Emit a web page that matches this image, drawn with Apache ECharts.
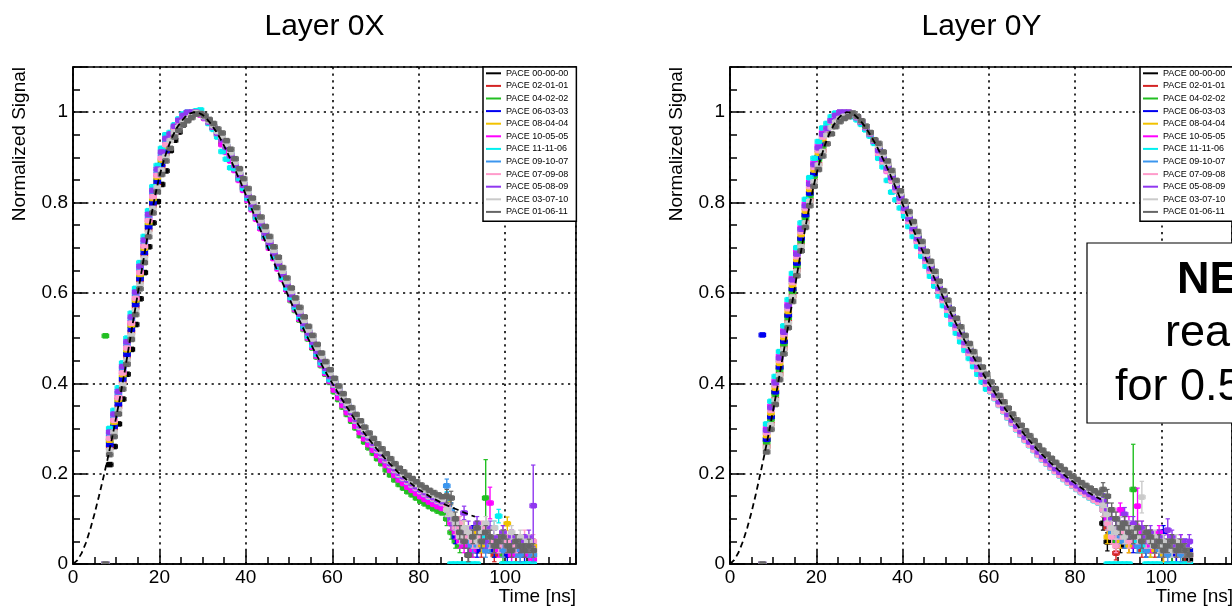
<!DOCTYPE html>
<html>
<head>
<meta charset="utf-8">
<script src="https://cdn.jsdelivr.net/npm/echarts@6/dist/echarts.min.js"></script>
<style>
  html, body { margin: 0; background: #fff; }
  #chart { width: 1232px; height: 609px; }
</style>
</head>
<body>
<div id="chart"></div>
<script>
// time bins [ns], shared by all PACE curves
const times = [7.5,8.5,9.5,10.5,11.5,12.5,13.5,14.5,15.5,16.5,17.5,18.5,19.5,20.5,21.5,22.5,23.5,24.5,25.5,26.5,
  27.5,28.5,29.5,30.5,31.5,32.5,33.5,34.5,35.5,36.5,37.5,38.5,39.5,40.5,41.5,42.5,43.5,44.5,45.5,46.5,
  47.5,48.5,49.5,50.5,51.5,52.5,53.5,54.5,55.5,56.5,57.5,58.5,59.5,60.5,61.5,62.5,63.5,64.5,65.5,66.5,
  67.5,68.5,69.5,70.5,71.5,72.5,73.5,74.5,75.5,76.5,77.5,78.5,79.5,80.5,81.5,82.5,83.5,84.5,85.5,86.5,
  87.5,88.5,89.5,90.5,91.5,92.5,93.5,94.5,95.5,96.5,97.5,98.5,99.5,100.5,101.5,102.5,103.5,104.5,105.5,106.5];

const seriesNames = ['PACE 00-00-00','PACE 02-01-01','PACE 04-02-02','PACE 06-03-03','PACE 08-04-04','PACE 10-05-05',
  'PACE 11-11-06','PACE 09-10-07','PACE 07-09-08','PACE 05-08-09','PACE 03-07-10','PACE 01-06-11'];
const seriesColors = ['#000000','#d42424','#22bf22','#0000f0','#f2c200','#ff00ff',
  '#00f0f0','#3c96ee','#ff9ccb','#9038f0','#cacaca','#666666'];

// ---- Layer 0X ----
const lx0 = [0,
  .22,.26,.31,.365,.42,.475,.53,.587,.645,.702,.755,.802,.84,.87,
  .915,.938,.956,.972,.984,.993,
  .997,.998,.99,.98,.968,.955,
  .941,.924,.905,.884,.862,.84,.818,.797,.776,.755,.734,.712,.689,.666,.643,.62,.598,.576,.555,.534,.513,.493,.473,.454,.435,.417,
  .401,.384,.367,.351,.336,.321,.307,.293,.28,.268,.256,.245,.234,.223,.212,.202,.194,.186,.179,.172,.165,.159,.153,.148,.143,.139,
  .14,.12,.09,.07,.05,.02,.06,.04,.05,.06,.04,.03,.05,.04,.03,.04,.02,.03,.04,.03,.02];
const lx1 = [0,
  .258,.298,.348,.403,.458,.513,.568,.625,.683,.74,.793,.84,.878,.908,
  .938,.955,.968,.979,.987,.993,
  .999,.995,.987,.977,.966,.951,
  .934,.917,.898,.877,.855,.833,.811,.79,.769,.748,.727,.705,.682,.659,.636,.613,.591,.569,.548,.527,.506,.486,.466,.447,.428,.41,
  .391,.374,.357,.341,.326,.311,.297,.283,.27,.258,.246,.235,.224,.213,.202,.192,.184,.176,.169,.162,.155,.149,.143,.138,.133,.129,
  .13,.11,.08,.06,.07,.05,.04,.06,.03,.05,.04,.02,.04,.03,.05,.03,.02,.04,.03,.02,.03];
const lx2 = [.505,
  .272,.31,.362,.413,.47,.527,.58,.635,.697,.75,.805,.85,.891,.92,
  .943,.96,.972,.984,.991,.997,
  1,.995,.987,.977,.965,.95,
  .93,.913,.894,.873,.851,.829,.807,.786,.765,.744,.723,.701,.678,.655,.632,.609,.583,.561,.54,.519,.498,.478,.458,.439,.42,.402,
  .381,.364,.347,.331,.316,.301,.284,.27,.257,.245,.233,.222,.208,.197,.186,.176,.168,.16,.153,.146,.139,.133,.127,.122,.117,.113,
  .10,.07,.05,.04,.06,.05,.03,.04,.05,.146,.04,.03,.05,.02,.04,.03,.05,.02,.03,.04,.02];
const lx3 = [0,
  .264,.304,.354,.409,.464,.519,.574,.631,.689,.746,.799,.846,.884,.914,
  .94,.957,.97,.981,.989,.995,
  1,.996,.988,.978,.966,.952,
  .935,.918,.899,.878,.856,.834,.812,.791,.77,.749,.728,.706,.683,.66,.637,.614,.592,.57,.549,.528,.507,.487,.467,.448,.429,.411,
  .392,.375,.358,.342,.327,.312,.298,.284,.271,.259,.247,.236,.225,.214,.203,.193,.185,.177,.17,.163,.156,.15,.144,.139,.134,.13,
  .13,.10,.06,.08,.05,.04,.07,.03,.05,.04,.06,.03,.04,.05,.02,.04,.03,.05,.02,.03,.04];
const lx4 = [0,
  .274,.314,.364,.419,.474,.529,.584,.641,.699,.756,.809,.856,.894,.924,
  .943,.96,.973,.984,.992,.998,
  1,.996,.988,.978,.967,.953,
  .937,.922,.901,.882,.858,.838,.814,.795,.772,.753,.73,.71,.685,.664,.639,.618,.594,.574,.551,.532,.509,.491,.469,.452,.431,.415,
  .395,.378,.361,.345,.33,.315,.301,.287,.274,.262,.25,.239,.228,.217,.206,.196,.188,.18,.173,.166,.159,.153,.147,.142,.137,.133,
  .14,.11,.09,.07,.08,.05,.06,.07,.04,.05,.06,.04,.05,.03,.089,.04,.03,.05,.04,.03,.04];
const lx5 = [0,
  .28,.32,.37,.425,.48,.535,.59,.647,.705,.762,.815,.862,.9,.93,
  .947,.964,.977,.988,.995,1,
  1,.994,.986,.976,.965,.95,
  .928,.911,.892,.871,.849,.827,.805,.784,.763,.742,.721,.699,.676,.653,.63,.607,.585,.563,.542,.521,.5,.48,.46,.441,.422,.404,
  .385,.368,.351,.335,.32,.305,.291,.277,.264,.252,.24,.229,.218,.207,.196,.186,.178,.17,.163,.156,.149,.143,.137,.132,.127,.123,
  .12,.09,.07,.05,.04,.06,.03,.05,.07,.06,.135,.04,.03,.05,.04,.02,.03,.04,.03,.02,.01];
const lx6 = [0,
  .30,.34,.39,.445,.50,.555,.61,.667,.725,.782,.835,.882,.92,.95,
  .955,.972,.985,.996,1,1,
  1.003,1.005,.99,.975,.962,.945,
  .913,.896,.877,.875,.853,.831,.809,.788,.767,.746,.725,.703,.68,.657,.634,.611,.589,.567,.546,.525,.504,.484,.464,.445,.426,.408,
  .396,.379,.362,.346,.331,.316,.302,.288,.275,.263,.251,.24,.229,.218,.207,.197,.189,.181,.174,.167,.16,.154,.148,.143,.138,.134,
  .145,0,0,0,0,0,0,0,.07,.06,.05,.08,.106,0,0,0,0,0,0,0,0];
const lx7 = [0,
  .288,.328,.378,.433,.488,.543,.598,.655,.713,.77,.823,.87,.908,.938,
  .95,.967,.98,.991,.999,1,
  1,.996,.988,.979,.968,.955,
  .943,.926,.907,.886,.864,.842,.82,.799,.778,.757,.736,.714,.691,.668,.645,.622,.60,.578,.557,.536,.515,.495,.475,.456,.437,.419,
  .402,.385,.368,.352,.337,.322,.308,.294,.281,.269,.257,.246,.235,.224,.213,.203,.195,.187,.18,.173,.166,.16,.154,.149,.144,.14,
  .173,.12,.08,.06,.07,.05,.04,.06,.05,.03,.04,.06,.04,.03,.05,.04,.03,.02,.04,.03,.02];
const lx8 = [0,
  .278,.318,.368,.423,.478,.533,.588,.645,.703,.76,.813,.86,.898,.928,
  .946,.963,.976,.987,.995,1,
  1,.996,.988,.978,.967,.953,
  .94,.923,.904,.883,.861,.839,.817,.796,.775,.754,.733,.711,.688,.665,.642,.619,.597,.575,.554,.533,.512,.492,.472,.453,.434,.416,
  .397,.38,.363,.347,.332,.317,.303,.289,.276,.264,.252,.241,.23,.219,.208,.198,.19,.182,.175,.168,.161,.155,.149,.144,.139,.135,
  .13,.10,.08,.09,.06,.07,.05,.06,.08,.07,.05,.06,.04,.07,.05,.06,.04,.05,.06,.04,.05];
const lx9 = [0,
  .292,.332,.382,.437,.492,.547,.602,.659,.717,.774,.827,.874,.912,.942,
  .952,.969,.982,.993,1,1,
  1,.996,.988,.978,.967,.953,
  .939,.922,.903,.882,.86,.838,.816,.795,.774,.753,.732,.71,.687,.664,.641,.618,.596,.574,.553,.532,.511,.491,.471,.452,.433,.415,
  .40,.383,.366,.35,.335,.32,.306,.292,.279,.267,.255,.244,.233,.222,.211,.201,.193,.185,.178,.171,.164,.158,.152,.147,.142,.138,
  .12,.10,.09,.07,.113,.08,.06,.09,.07,.05,.08,.06,.05,.07,.04,.06,.05,.04,.05,.06,.129];
const lx10 = [0,
  .252,.292,.342,.397,.452,.507,.562,.619,.677,.734,.787,.834,.872,.902,
  .937,.954,.967,.978,.986,.992,
  .999,.997,.99,.981,.97,.957,
  .946,.929,.91,.889,.867,.845,.823,.802,.781,.76,.739,.717,.694,.671,.648,.625,.603,.581,.56,.539,.518,.498,.478,.459,.44,.422,
  .405,.388,.371,.355,.34,.325,.311,.297,.284,.272,.26,.249,.238,.227,.216,.206,.198,.19,.183,.176,.169,.163,.157,.152,.147,.143,
  .12,.11,.09,.06,.08,.07,.06,.05,.07,.09,.06,.08,.05,.06,.04,.07,.05,.06,.04,.05,.03];
const lx11 = [0,
  .242,.282,.332,.387,.442,.497,.552,.609,.667,.724,.777,.824,.862,.892,
  .92,.945,.96,.972,.981,.988,
  .996,.997,.992,.984,.975,.963,
  .954,.937,.918,.897,.875,.853,.831,.81,.789,.768,.747,.725,.702,.679,.656,.633,.611,.589,.568,.547,.526,.506,.486,.467,.448,.43,
  .411,.394,.377,.361,.346,.331,.317,.303,.29,.278,.266,.255,.244,.233,.222,.212,.204,.196,.189,.182,.175,.169,.163,.158,.153,.149,
  .15,.146,.10,.07,.05,.02,.06,.08,.05,.07,.06,.04,.05,.06,.04,.03,.05,.04,.03,.04,.03];

// ---- Layer 0Y ----
const ly0 = [0,
  .275,.325,.38,.435,.492,.55,.608,.665,.72,.772,.82,.863,.90,.93,
  .956,.973,.985,.993,.998,.997,
  .997,.99,.98,.968,.954,.938,
  .922,.903,.883,.862,.84,.817,.794,.771,.749,.727,.705,.683,.661,.639,.617,.596,.575,.555,.535,.516,.497,.479,.461,.444,.427,.411,
  .396,.381,.366,.352,.338,.325,.312,.30,.288,.277,.266,.255,.245,.236,.227,.218,.21,.202,.194,.187,.18,.173,.167,.161,.155,.15,
  .09,.049,.06,.05,.04,.07,.06,.05,.04,.06,.03,.05,.04,.03,.05,.04,.02,.04,.03,.02,.01];
const ly1 = [0,
  .26,.31,.365,.42,.477,.535,.593,.65,.705,.757,.805,.848,.885,.915,
  .95,.967,.979,.987,.992,.991,
  .995,.988,.978,.966,.952,.936,
  .919,.90,.88,.859,.837,.814,.791,.768,.746,.724,.702,.68,.658,.636,.614,.593,.572,.552,.532,.513,.494,.476,.458,.441,.424,.408,
  .393,.378,.363,.349,.335,.322,.309,.297,.285,.274,.263,.252,.242,.233,.224,.215,.207,.199,.191,.184,.177,.17,.164,.158,.152,.147,
  .12,.08,.06,.024,.05,.07,.04,.06,.05,.03,.05,.04,.03,.05,.02,.04,.03,.02,.03,.02,.02];
const ly2 = [0,
  .27,.32,.375,.43,.487,.545,.603,.66,.715,.767,.815,.858,.895,.925,
  .954,.971,.983,.991,.996,.995,
  .995,.988,.978,.966,.952,.936,
  .917,.90,.878,.859,.835,.814,.789,.768,.744,.724,.70,.68,.656,.636,.612,.593,.57,.552,.53,.513,.492,.476,.456,.441,.422,.408,
  .39,.377,.36,.348,.332,.321,.306,.296,.282,.273,.26,.251,.239,.232,.221,.214,.204,.198,.188,.183,.174,.169,.161,.157,.149,.146,
  .13,.09,.07,.05,.06,.08,.05,.165,.06,.04,.05,.03,.04,.06,.03,.04,.02,.03,.04,.03,.02];
const ly3 = [.507,
  .276,.326,.381,.436,.493,.551,.609,.666,.721,.773,.821,.864,.901,.931,
  .956,.973,.985,.993,.998,.997,
  .995,.988,.978,.966,.952,.936,
  .917,.898,.878,.857,.835,.812,.789,.766,.744,.722,.70,.678,.656,.634,.612,.591,.57,.55,.53,.511,.492,.474,.456,.439,.422,.406,
  .391,.376,.361,.347,.333,.32,.307,.295,.283,.272,.261,.25,.24,.231,.222,.213,.205,.197,.189,.182,.175,.168,.162,.156,.15,.145,
  .14,.10,.08,.06,.09,.05,.07,.04,.06,.05,.03,.06,.04,.05,.07,.03,.04,.02,.03,.04,.03];
const ly4 = [0,
  .284,.334,.389,.444,.501,.559,.617,.674,.729,.781,.829,.872,.909,.939,
  .96,.977,.989,.997,1,1,
  .995,.988,.978,.966,.952,.936,
  .912,.893,.873,.852,.83,.807,.784,.761,.739,.717,.695,.673,.651,.629,.607,.586,.565,.545,.525,.506,.487,.469,.451,.434,.417,.401,
  .385,.37,.355,.341,.327,.314,.301,.289,.277,.266,.255,.244,.234,.225,.216,.207,.199,.191,.183,.176,.169,.162,.156,.15,.144,.139,
  .12,.06,.08,.07,.05,.06,.04,.07,.05,.04,.06,.03,.05,.04,.02,.03,.04,.03,.02,.03,.02];
const ly5 = [0,
  .30,.35,.405,.46,.517,.575,.633,.69,.745,.797,.845,.888,.925,.955,
  .966,.983,.995,1,1,.999,
  .993,.986,.976,.964,.95,.934,
  .908,.889,.869,.848,.826,.803,.78,.757,.735,.713,.691,.669,.647,.625,.603,.582,.561,.541,.521,.502,.483,.465,.447,.43,.413,.397,
  .383,.368,.353,.339,.325,.312,.299,.287,.275,.264,.253,.242,.232,.223,.214,.205,.197,.189,.181,.174,.167,.16,.154,.148,.142,.137,
  .13,.10,.08,.07,.12,.06,.09,.05,.128,.07,.06,.04,.05,.07,.04,.05,.03,.04,.05,.03,.02];
const ly6 = [0,
  .31,.36,.415,.47,.527,.585,.643,.70,.755,.807,.855,.898,.935,.965,
  .975,.99,.998,1,1,.996,
  .99,.983,.973,.961,.947,.931,
  .898,.879,.849,.823,.806,.788,.77,.747,.725,.703,.681,.659,.637,.615,.593,.572,.551,.531,.511,.492,.473,.455,.437,.42,.403,.387,
  .381,.366,.351,.337,.323,.31,.297,.285,.273,.262,.251,.24,.23,.221,.212,.203,.195,.187,.179,.172,.165,.158,.152,.146,.14,.135,
  .12,0,0,0,0,0,0,.06,.05,.04,0,0,0,0,.03,0,0,0,0,0,0];
const ly7 = [0,
  .292,.342,.397,.452,.509,.567,.625,.682,.737,.789,.837,.88,.917,.947,
  .963,.98,.992,1,1,1,
  .995,.988,.978,.966,.952,.936,
  .911,.892,.872,.851,.829,.806,.783,.76,.738,.716,.694,.672,.65,.628,.606,.585,.564,.544,.524,.505,.486,.468,.45,.433,.416,.40,
  .386,.371,.356,.342,.328,.315,.302,.29,.278,.267,.256,.245,.235,.226,.217,.208,.20,.192,.184,.177,.17,.163,.157,.151,.145,.14,
  .13,.09,.07,.08,.06,.05,.08,.06,.04,.05,.03,.05,.04,.03,.04,.02,.03,.04,.02,.03,.02];
const ly8 = [0,
  .29,.34,.395,.45,.507,.565,.623,.68,.735,.787,.835,.878,.915,.945,
  .963,.98,.992,1,1,1,
  .995,.988,.978,.966,.952,.936,
  .909,.89,.87,.849,.827,.804,.781,.758,.736,.714,.692,.67,.648,.626,.604,.583,.562,.542,.522,.503,.484,.466,.448,.431,.414,.398,
  .382,.367,.352,.338,.324,.311,.298,.286,.274,.263,.252,.241,.231,.222,.213,.204,.196,.188,.18,.173,.166,.159,.153,.147,.141,.136,
  .12,.09,.06,.04,.07,.09,.05,.07,.06,.08,.05,.06,.04,.05,.03,.04,.05,.03,.04,.03,.02];
const ly9 = [0,
  .296,.346,.401,.456,.513,.571,.629,.686,.741,.793,.841,.884,.921,.951,
  .964,.981,.993,1,1,1,
  .995,.988,.978,.966,.952,.936,
  .915,.896,.876,.855,.833,.81,.787,.764,.742,.72,.698,.676,.654,.632,.61,.589,.568,.548,.528,.509,.49,.472,.454,.437,.42,.404,
  .389,.374,.359,.345,.331,.318,.305,.293,.281,.27,.259,.248,.238,.229,.22,.211,.203,.195,.187,.18,.173,.166,.16,.154,.148,.143,
  .14,.12,.10,.08,.09,.11,.07,.09,.06,.08,.06,.07,.05,.06,.05,.075,.06,.04,.05,.04,.05];
const ly10 = [0,
  .258,.308,.363,.418,.475,.533,.591,.648,.703,.755,.803,.846,.883,.913,
  .949,.966,.978,.986,.991,.992,
  .997,.99,.98,.968,.954,.938,
  .925,.906,.886,.865,.843,.82,.797,.774,.752,.73,.708,.686,.664,.642,.62,.599,.578,.558,.538,.519,.50,.482,.464,.447,.43,.414,
  .399,.384,.369,.355,.341,.328,.315,.303,.291,.28,.269,.258,.248,.239,.23,.221,.213,.205,.197,.19,.183,.176,.17,.164,.158,.153,
  .13,.11,.08,.07,.09,.06,.08,.07,.06,.148,.07,.05,.06,.04,.05,.04,.03,.05,.04,.03,.02];
const ly11 = [0,
  .248,.298,.353,.408,.465,.523,.581,.638,.693,.745,.793,.836,.873,.903,
  .93,.952,.968,.979,.986,.99,
  .998,.991,.981,.969,.955,.939,
  .931,.912,.892,.871,.849,.826,.803,.78,.758,.736,.714,.692,.67,.648,.626,.605,.584,.564,.544,.525,.506,.488,.47,.453,.436,.42,
  .403,.388,.373,.359,.345,.332,.319,.307,.295,.284,.273,.262,.252,.243,.234,.225,.217,.209,.201,.194,.187,.18,.174,.168,.162,.157,
  .165,.15,.12,.10,.08,.09,.07,.06,.08,.05,.07,.06,.04,.05,.03,.04,.05,.03,.04,.03,.02];

// large vertical error bars in the tail: [series index, time, error]
const bigErrX = [[2, 95.5, 0.085], [5, 96.5, 0.035], [9, 106.5, 0.09], [7, 86.5, 0.015]];
const bigErrY = [[0, 87.5, 0.02], [2, 93.5, 0.1], [5, 94.5, 0.04], [9, 101.5, 0.025], [10, 95.5, 0.035]];
const tailStart = 86;
const tailErr = 0.015;
const binHalf = 0.75;

// fitted pulse shape (dashed)
const fitTimes = [0,1,2,3,4,5,6,7,8,9,10,11,12,13,14,15,16,17,18,19,20,21,22,23,24,25,26,27,28,29,30,
  31,32,33,34,35,36,37,38,39,40,41,42,43,44,45,46,47,48,49,50,51,52,53,54,55,56,57,58,59,60,
  61,62,63,64,65,66,67,68,69,70,71,72,73,74,75,76,77,78,79,80,81,82,83,84,85,86,87,88,89,90,91,92,93];
const fitX = [0,.008,.024,.047,.077,.112,.15,.19,.232,.277,.325,.375,.428,.485,.542,.599,.655,.712,.765,.815,
  .858,.893,.922,.946,.965,.979,.99,.997,1,.999,.994,.985,.973,.959,.943,.925,.905,.884,.862,.84,
  .817,.794,.771,.748,.725,.702,.679,.656,.633,.611,.589,.568,.547,.527,.507,.488,.469,.451,.433,.416,
  .40,.384,.368,.353,.338,.323,.309,.295,.282,.27,.258,.247,.236,.225,.215,.205,.196,.188,.18,.172,
  .165,.159,.153,.147,.142,.137,.132,.128,.124,.12,.116,.112,.108,.105];
const fitY = [0,.009,.026,.05,.08,.115,.155,.198,.243,.29,.34,.392,.446,.50,.555,.61,.667,.72,.771,.819,
  .862,.897,.927,.952,.971,.985,.995,1,.999,.993,.984,.972,.958,.942,.925,.906,.886,.865,.843,.82,
  .797,.774,.751,.729,.707,.685,.663,.641,.62,.599,.579,.559,.54,.521,.502,.484,.466,.449,.432,.416,
  .40,.385,.37,.355,.341,.328,.315,.302,.29,.278,.267,.256,.246,.236,.227,.218,.209,.201,.193,.186,
  .179,.172,.165,.159,.153,.148,.143];

const layerX = [lx0, lx1, lx2, lx3, lx4, lx5, lx6, lx7, lx8, lx9, lx10, lx11];
const layerY = [ly0, ly1, ly2, ly3, ly4, ly5, ly6, ly7, ly8, ly9, ly10, ly11];

const FONT = 'Liberation Sans';
const MARK = 5.6;

function renderPoint(params, api) {
  const t = api.value(0), v = api.value(1), e = api.value(2);
  const c = api.coord([t, v]);
  const hw = api.size([binHalf, 0])[0];
  const col = api.visual('color');
  const kids = [
    { type: 'line', shape: { x1: c[0] - hw, y1: c[1], x2: c[0] + hw, y2: c[1] }, style: { stroke: col, lineWidth: 1.5 } },
    { type: 'line', shape: { x1: c[0] - hw, y1: c[1] - 2.2, x2: c[0] - hw, y2: c[1] + 2.2 }, style: { stroke: col, lineWidth: 1.2 } },
    { type: 'line', shape: { x1: c[0] + hw, y1: c[1] - 2.2, x2: c[0] + hw, y2: c[1] + 2.2 }, style: { stroke: col, lineWidth: 1.2 } },
    { type: 'rect', shape: { x: c[0] - MARK / 2, y: c[1] - MARK / 2, width: MARK, height: MARK }, style: { fill: col } }
  ];
  if (e > 0) {
    const lo = api.coord([t, v - e]), hi = api.coord([t, v + e]);
    kids.push({ type: 'line', shape: { x1: c[0], y1: lo[1], x2: c[0], y2: hi[1] }, style: { stroke: col, lineWidth: 1.4 } });
    kids.push({ type: 'line', shape: { x1: c[0] - 2.2, y1: lo[1], x2: c[0] + 2.2, y2: lo[1] }, style: { stroke: col, lineWidth: 1.2 } });
    kids.push({ type: 'line', shape: { x1: c[0] - 2.2, y1: hi[1], x2: c[0] + 2.2, y2: hi[1] }, style: { stroke: col, lineWidth: 1.2 } });
  }
  return { type: 'group', children: kids };
}

function pointSeries(idx, vals, gridIdx, bigErr) {
  const data = times.map((t, i) => {
    let e = 0;
    if (t > tailStart && vals[i] > 0) e = tailErr;
    const b = bigErr.find(r => r[0] === idx && r[1] === t);
    if (b) e = b[2];
    return [t, vals[i], e];
  });
  return {
    type: 'custom',
    name: seriesNames[idx],
    xAxisIndex: gridIdx,
    yAxisIndex: gridIdx,
    renderItem: renderPoint,
    clip: true,
    itemStyle: { color: seriesColors[idx] },
    encode: { x: 0, y: 1 },
    data: data
  };
}

function fitSeries(vals, gridIdx) {
  return {
    type: 'line',
    xAxisIndex: gridIdx,
    yAxisIndex: gridIdx,
    data: fitTimes.slice(0, vals.length).map((t, i) => [t, vals[i]]),
    showSymbol: false,
    symbol: 'none',
    silent: true,
    lineStyle: { color: '#000', width: 1.8, type: [6, 4] },
    z: 3
  };
}

const dotted = { color: '#000', width: 1.6, type: [2.2, 4.4] };

function xAxisFor(gridIndex) {
  return {
    type: 'value', gridIndex, min: 0, max: 116.4, interval: 20,
    axisLine: { show: true, onZero: false, lineStyle: { color: '#000', width: 1.6 } },
    axisTick: { show: true, inside: true, length: 13, lineStyle: { color: '#000', width: 1.5 } },
    minorTick: { show: true, splitNumber: 4, length: 7, lineStyle: { color: '#000', width: 1.5 } },
    axisLabel: { margin: 4, fontSize: 19, color: '#000', fontFamily: FONT, showMaxLabel: false },
    splitLine: { show: true, lineStyle: dotted }
  };
}

function yAxisFor(gridIndex) {
  return {
    type: 'value', gridIndex, min: 0, max: 1.1, interval: 0.2,
    axisLine: { show: true, onZero: false, lineStyle: { color: '#000', width: 1.6 } },
    axisTick: { show: true, inside: true, length: 14, lineStyle: { color: '#000', width: 1.5 } },
    minorTick: { show: true, splitNumber: 4, length: 7, lineStyle: { color: '#000', width: 1.5 } },
    axisLabel: { margin: 5, fontSize: 19, color: '#000', fontFamily: FONT, showMaxLabel: false },
    splitLine: { show: true, lineStyle: dotted }
  };
}

function legendAt(left) {
  return {
    left: left, top: 67, orient: 'vertical',
    data: seriesNames.map(n => ({ name: n, icon: 'rect' })),
    itemWidth: 15, itemHeight: 2, itemGap: 0,
    padding: [0, 8, 3, 3],
    backgroundColor: '#fff', borderColor: '#000', borderWidth: 1.5, borderRadius: 0,
    textStyle: { fontSize: 9, lineHeight: 12.6, color: '#000', fontFamily: FONT },
    selectedMode: false,
    z: 10
  };
}

function label(text, x, y, font, align, extra) {
  return Object.assign({
    type: 'text', x: x, y: y, z: 30,
    style: {
      text: text, font: font, fill: '#000',
      align: align, verticalAlign: 'middle', textAlign: align, textVerticalAlign: 'middle'
    }
  }, extra || {});
}

const series = [];
layerX.forEach((vals, i) => series.push(pointSeries(i, vals, 0, bigErrX)));
layerY.forEach((vals, i) => series.push(pointSeries(i, vals, 1, bigErrY)));
series.push(fitSeries(fitX, 0));
series.push(fitSeries(fitY, 1));

const f19 = '19px "' + FONT + '"';
const f30 = '30px "' + FONT + '"';
const f45 = '45px "' + FONT + '"';

const option = {
  animation: false,
  backgroundColor: '#fff',
  textStyle: { fontFamily: FONT },
  grid: [
    { left: 73, top: 67, width: 503, height: 497, show: true, borderColor: '#000', borderWidth: 1.6, backgroundColor: 'transparent' },
    { left: 730, top: 67, width: 503, height: 497, show: true, borderColor: '#000', borderWidth: 1.6, backgroundColor: 'transparent' }
  ],
  xAxis: [xAxisFor(0), xAxisFor(1)],
  yAxis: [yAxisFor(0), yAxisFor(1)],
  legend: [legendAt(483), legendAt(1140)],
  graphic: [
    label('Layer 0X', 324.5, 27, f30, 'center'),
    label('Layer 0Y', 981.5, 27, f30, 'center'),
    label('Normalized Signal', 20, 67, f19, 'right', { rotation: Math.PI / 2 }),
    label('Normalized Signal', 677, 67, f19, 'right', { rotation: Math.PI / 2 }),
    label('Time [ns]', 576, 597, f19, 'right'),
    label('Time [ns]', 1233, 597, f19, 'right'),
    { type: 'rect', z: 28, shape: { x: 1087, y: 243, width: 200, height: 180 },
      style: { fill: '#fff', stroke: '#000', lineWidth: 1.2 } },
    label('NE', 1177, 281, 'bold ' + f45, 'left'),
    label('rea', 1165, 334, f45, 'left'),
    label('for 0.5', 1115, 388, f45, 'left')
  ],
  series: series
};

const chart = echarts.init(document.getElementById('chart'), null, { renderer: 'canvas' });
chart.setOption(option);
window.addEventListener('resize', () => chart.resize());
</script>
</body>
</html>
